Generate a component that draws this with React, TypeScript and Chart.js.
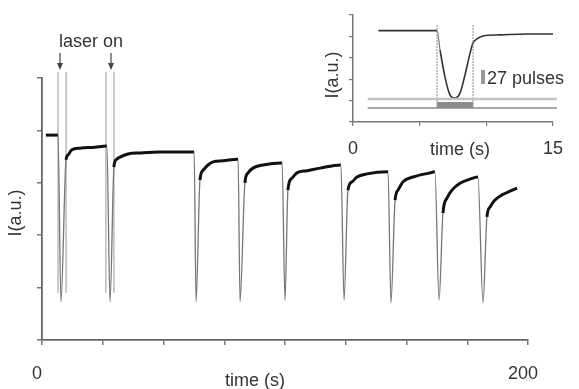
import React, { useEffect, useRef } from "react";
import { Chart, registerables } from "chart.js";

Chart.register(...registerables);

const FONT = '"Liberation Sans", Arial, Helvetica, sans-serif';

// ---- main trace: time (s) vs intensity (a.u.) ----
const mainTime = [
  1.6, 6.6, 7.8, 9.9, 10.7, 12.3, 15.6, 21.8, 26.7,
  28.0, 29.6, 30.5, 32.1, 35.4, 40.3, 48.6, 62.6,
  63.4, 65.0, 66.3, 68.3, 70.4, 74.5, 80.7,
  81.5, 83.5, 84.8, 86.8, 90.9, 98.8,
  100.0, 101.2, 102.9, 104.9, 109.1, 114.4, 123.0,
  124.3, 125.9, 127.6, 129.6, 133.7, 142.4,
  143.6, 145.3, 146.5, 148.6, 152.7, 159.7, 161.7,
  163.4, 165.0, 166.7, 168.7, 172.0, 176.1, 179.4,
  181.5, 183.1, 184.4, 186.4, 189.3, 192.6, 195.5,
];
const mainIntensity = [
  3.91, 3.91, 0.73, 3.44, 3.53, 3.63, 3.66, 3.68, 3.70,
  0.73, 3.30, 3.44, 3.49, 3.55, 3.57, 3.59, 3.59,
  0.73, 3.05, 3.24, 3.34, 3.40, 3.42, 3.45,
  0.73, 3.00, 3.19, 3.28, 3.34, 3.38,
  0.76, 2.86, 3.09, 3.19, 3.23, 3.28, 3.34,
  0.76, 2.86, 3.02, 3.11, 3.17, 3.21,
  0.71, 2.67, 2.86, 3.02, 3.11, 3.19, 3.21,
  0.76, 2.42, 2.71, 2.86, 2.99, 3.07, 3.11,
  0.71, 2.35, 2.54, 2.67, 2.77, 2.84, 2.90,
];

// laser pulse markers (vertical lines) for the first two flashes
const laserTime = [6.6, 6.6, 6.6, 9.9, 9.9, 9.9, 26.3, 26.3, 26.3, 29.6, 29.6];
const laserIntensity = [0.9, 5.12, null, 0.9, 5.12, null, 0.9, 5.12, null, 0.9, 5.12];
const laserArrowTimes = [7.4, 28.4];

const mainXTickLabels = [0, 200];

// ---- inset: single flash, 27 pulses ----
const insetTime = [1.9, 6.3, 6.53, 6.9, 7.28, 7.65, 8.03, 8.4, 8.78, 9.0, 9.3, 9.75, 11.03, 13.05, 15.0];
const insetIntensity = [4.27, 4.27, 3.36, 2.1, 1.26, 1.12, 1.36, 2.2, 3.22, 3.69, 3.88, 4.02, 4.07, 4.11, 4.11];
const pulseWindow = [6.3, 9.0];
const pulseBarTop = 0.93;
const pulseBarBase = 0.65;
const markerLineTop = 4.53;
const baselineSpan = [1.1, 15.3];
const baselineUpper = 1.07;
const baselineLower = 0.65;
const insetXTickLabels = [0, 15];

const pts = (xs: number[], ys: (number | null)[]) => xs.map((x, i) => ({ x, y: ys[i] }));

const steep = (ctx: any) => {
  const dx = Math.abs(ctx.p1.x - ctx.p0.x);
  const dy = Math.abs(ctx.p1.y - ctx.p0.y);
  return dy > 6 * Math.max(dx, 0.01);
};

const mainTextPlugin = {
  id: "mainText",
  afterDraw(chart: any) {
    const { ctx } = chart;
    const xs = chart.scales.x;
    ctx.save();
    ctx.fillStyle = "#333";
    ctx.strokeStyle = "#444";
    ctx.font = `18px ${FONT}`;
    ctx.textAlign = "center";
    ctx.textBaseline = "middle";
    ctx.fillText("laser on", 91, 42);
    laserArrowTimes.forEach((t) => {
      const x = xs.getPixelForValue(t);
      ctx.lineWidth = 1.2;
      ctx.beginPath();
      ctx.moveTo(x, 53);
      ctx.lineTo(x, 68);
      ctx.stroke();
      ctx.beginPath();
      ctx.moveTo(x - 3, 63);
      ctx.lineTo(x, 70);
      ctx.lineTo(x + 3, 63);
      ctx.closePath();
      ctx.fillStyle = "#444";
      ctx.fill();
    });
    ctx.fillStyle = "#333";
    ctx.fillText("time (s)", 255, 381);
    ctx.translate(16, 213);
    ctx.rotate(-Math.PI / 2);
    ctx.fillText("I(a.u.)", 0, 0);
    ctx.restore();
  },
};

const insetTextPlugin = {
  id: "insetText",
  afterDraw(chart: any) {
    const { ctx } = chart;
    ctx.save();
    ctx.fillStyle = "#333";
    ctx.font = `18px ${FONT}`;
    ctx.textAlign = "center";
    ctx.textBaseline = "middle";
    ctx.fillText("time (s)", 160, 150);
    ctx.save();
    ctx.translate(33, 75);
    ctx.rotate(-Math.PI / 2);
    ctx.fillText("I(a.u.)", 0, 0);
    ctx.restore();
    ctx.fillStyle = "#999";
    ctx.fillRect(181, 70, 4, 14);
    ctx.fillStyle = "#333";
    ctx.textAlign = "left";
    ctx.fillText("27 pulses", 187, 79);
    ctx.restore();
  },
};

export default function App() {
  const mainRef = useRef<HTMLCanvasElement>(null);
  const insetRef = useRef<HTMLCanvasElement>(null);

  useEffect(() => {
    const axisGrid = {
      drawOnChartArea: false,
      drawTicks: true,
      tickLength: 5,
      color: "#777",
      lineWidth: 1.5,
    };
    const main = new Chart(mainRef.current!, {
      type: "line",
      data: {
        datasets: [
          {
            data: pts(mainTime, mainIntensity),
            borderColor: "#111",
            borderWidth: 3,
            pointRadius: 0,
            cubicInterpolationMode: "monotone",
            clip: false,
            segment: {
              borderColor: (c: any) => (steep(c) ? "#777" : "#111"),
              borderWidth: (c: any) => (steep(c) ? 1.3 : 3),
            },
          } as any,
          {
            data: pts(laserTime, laserIntensity),
            borderColor: "#9a9a9a",
            borderWidth: 1,
            pointRadius: 0,
            spanGaps: false,
            clip: false,
          } as any,
        ],
      },
      options: {
        animation: false,
        responsive: false,
        events: [],
        layout: { padding: { top: 78, right: 51, left: 0, bottom: 0 } },
        plugins: { legend: { display: false }, tooltip: { enabled: false } },
        scales: {
          x: {
            type: "linear",
            min: 0,
            max: 200,
            ticks: {
              stepSize: 25,
              autoSkip: false,
              maxRotation: 0,
              padding: 18,
              labelOffset: -5,
              color: "#333",
              font: { size: 18, family: FONT },
              callback: (v: any) => (mainXTickLabels.includes(v) ? String(v) : ""),
            },
            grid: axisGrid,
            border: { color: "#666", width: 1.8 },
            afterFit: (s: any) => {
              s.height = 49;
            },
          },
          y: {
            min: 0,
            max: 5,
            ticks: { stepSize: 1, display: false },
            grid: axisGrid,
            border: { color: "#666", width: 1.8 },
            afterFit: (s: any) => {
              s.width = 42;
            },
          },
        },
      } as any,
      plugins: [mainTextPlugin],
    });

    const inset = new Chart(insetRef.current!, {
      type: "line",
      data: {
        datasets: [
          {
            data: pts(baselineSpan, [baselineUpper, baselineUpper]),
            borderColor: "#c4c4c4",
            borderWidth: 2.5,
            pointRadius: 0,
            clip: false,
          } as any,
          {
            data: pts(baselineSpan, [baselineLower, baselineLower]),
            borderColor: "#8a8a8a",
            borderWidth: 1.5,
            pointRadius: 0,
            clip: false,
          } as any,
          {
            data: pts(pulseWindow, [pulseBarTop, pulseBarTop]),
            borderWidth: 0,
            borderColor: "rgba(0,0,0,0)",
            backgroundColor: "#8c8c8c",
            fill: { value: pulseBarBase },
            pointRadius: 0,
          } as any,
          {
            data: pts(
              [pulseWindow[0], pulseWindow[0], pulseWindow[0], pulseWindow[1], pulseWindow[1]],
              [pulseBarBase, markerLineTop, null, pulseBarBase, markerLineTop]
            ),
            borderColor: "#8a8a8a",
            borderWidth: 1,
            borderDash: [2, 1],
            pointRadius: 0,
            spanGaps: false,
          } as any,
          {
            data: pts(insetTime, insetIntensity),
            borderColor: "#333",
            borderWidth: 1.6,
            pointRadius: 0,
            cubicInterpolationMode: "monotone",
            clip: false,
            segment: {
              borderColor: (c: any) => (steep(c) ? "#777" : "#333"),
              borderWidth: (c: any) => (steep(c) ? 1.2 : 1.6),
            },
          } as any,
        ],
      },
      options: {
        animation: false,
        responsive: false,
        events: [],
        layout: { padding: { top: 15, right: 26, left: 0, bottom: 0 } },
        plugins: { legend: { display: false }, tooltip: { enabled: false } },
        scales: {
          x: {
            type: "linear",
            min: 0,
            max: 15,
            ticks: {
              stepSize: 5,
              autoSkip: false,
              maxRotation: 0,
              padding: 12,
              color: "#333",
              font: { size: 18, family: FONT },
              callback: (v: any) => (insetXTickLabels.includes(v) ? String(v) : ""),
            },
            grid: { ...axisGrid, tickLength: 4, lineWidth: 1.2 },
            border: { color: "#777", width: 1.5 },
            afterFit: (s: any) => {
              s.height = 38;
            },
          },
          y: {
            min: 0,
            max: 5,
            ticks: { stepSize: 1, display: false },
            grid: { ...axisGrid, tickLength: 4, lineWidth: 1.2 },
            border: { color: "#777", width: 1.5 },
            afterFit: (s: any) => {
              s.width = 53;
            },
          },
        },
      } as any,
      plugins: [insetTextPlugin],
    });

    return () => {
      main.destroy();
      inset.destroy();
    };
  }, []);

  return (
    <div style={{ position: "absolute", left: 0, top: 0, width: 579, height: 389, background: "#fff", overflow: "hidden" }}>
      <canvas ref={mainRef} width={579} height={389} style={{ position: "absolute", left: 0, top: 0, display: "block" }} />
      <canvas ref={insetRef} width={279} height={160} style={{ position: "absolute", left: 300, top: 0, display: "block" }} />
    </div>
  );
}
